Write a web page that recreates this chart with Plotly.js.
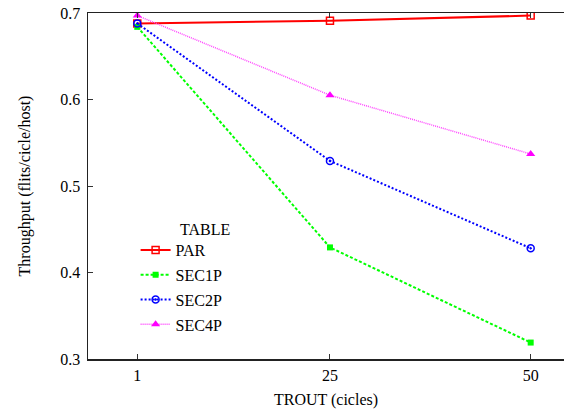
<!DOCTYPE html>
<html>
<head>
<meta charset="utf-8">
<script src="https://cdn.plot.ly/plotly-3.0.1.min.js"></script>
<style>
  html, body { margin: 0; padding: 0; background: #fff; }
  #chart { width: 564px; height: 415px; }
</style>
</head>
<body>
<div id="chart"></div>
<script>
// TROUT timeout values (cicles)
const trout = [1, 25, 50];

// Throughput (flits/cicle/host) for each routing table
const par   = [0.688, 0.691, 0.697];
const sec1p = [0.684, 0.429, 0.319];
const sec2p = [0.688, 0.529, 0.428];
const sec4p = [0.697, 0.605, 0.537];

const xTicks = [1, 25, 50];
const yTicks = [0.3, 0.4, 0.5, 0.6, 0.7];

const serif = "'Liberation Serif', 'Times New Roman', Times, serif";

const traces = [
  {
    name: 'PAR', x: trout, y: par, legendgroup: 'a',
    mode: 'lines+markers',
    line: { color: '#ff0000', width: 2 },
    marker: { symbol: 'square-open', size: 7, color: '#ff0000', line: { width: 1.5 } }
  },
  {
    name: 'SEC1P', x: trout, y: sec1p, legendgroup: 'b',
    mode: 'lines+markers',
    line: { color: '#00ff00', width: 2, dash: '3px,2px' },
    marker: { symbol: 'square', size: 6, color: '#00ff00' }
  },
  {
    name: 'SEC2P', x: trout, y: sec2p, legendgroup: 'c',
    mode: 'lines+markers',
    line: { color: '#0000ff', width: 2, dash: '2px,2px' },
    marker: { symbol: 'circle-open-dot', size: 7, color: '#0000ff', line: { width: 1.5, color: '#0000ff' } }
  },
  {
    name: 'SEC4P', x: trout, y: sec4p, legendgroup: 'd',
    mode: 'lines+markers',
    line: { color: '#ff44ff', width: 1.5, dash: '1px,1px' },
    marker: { symbol: 'triangle-up', size: 8, color: '#ff00ff' }
  }
];

const layout = {
  width: 564, height: 415,
  margin: { l: 88, r: 0, t: 13, b: 56 },
  paper_bgcolor: '#ffffff',
  plot_bgcolor: '#ffffff',
  font: { family: serif, size: 16, color: '#000' },
  showlegend: true,
  legend: {
    x: 0.1, y: 0.364, xanchor: 'left', yanchor: 'top',
    bgcolor: 'rgba(0,0,0,0)',
    font: { family: serif, size: 16 },
    tracegroupgap: 1,
    itemwidth: 30
  },
  annotations: [{
    text: 'TABLE', xref: 'paper', yref: 'paper',
    x: 0.19, y: 0.375, xanchor: 'left', yanchor: 'middle',
    showarrow: false, font: { family: serif, size: 16, color: '#000' }
  }],
  xaxis: {
    range: [-5.14, 54.15],
    tickmode: 'array', tickvals: xTicks, ticktext: xTicks.map(String),
    ticks: 'inside', ticklen: 5, tickwidth: 1, tickcolor: '#333',
    showline: true, linecolor: '#222', linewidth: 1.5, mirror: 'ticks',
    showgrid: false, zeroline: false,
    ticklabelstandoff: 1,
    title: { text: 'TROUT (cicles)', font: { family: serif, size: 16 }, standoff: 11 }
  },
  yaxis: {
    range: [0.3, 0.7],
    tickmode: 'array', tickvals: yTicks, ticktext: yTicks.map(v => v.toFixed(1)),
    ticks: 'inside', ticklen: 5, tickwidth: 1, tickcolor: '#333',
    showline: true, linecolor: '#222', linewidth: 1.5,
    showgrid: false, zeroline: false,
    ticklabelstandoff: 3,
    title: { text: 'Throughput (flits/cicle/host)', font: { family: serif, size: 16 }, standoff: 25 }
  }
};

Plotly.newPlot('chart', traces, layout, { displayModeBar: false, staticPlot: true });
</script>
</body>
</html>
